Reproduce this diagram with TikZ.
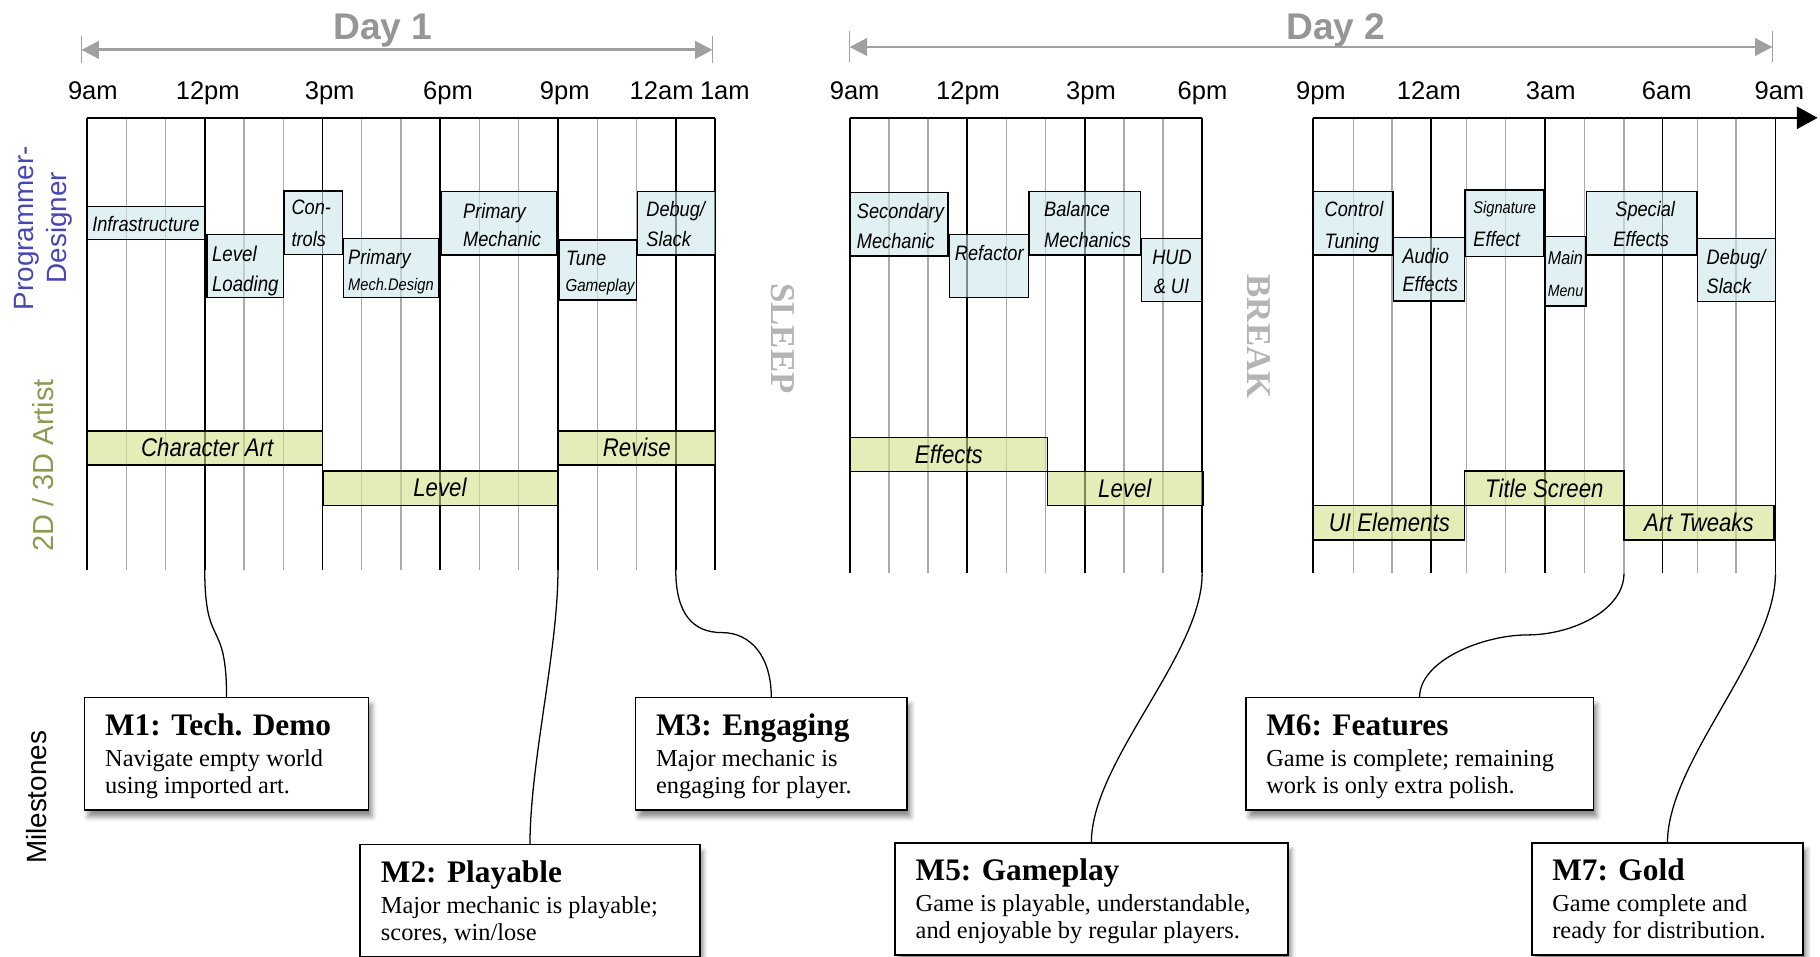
\documentclass[tikz,border=0pt]{standalone}
\usepackage{fontspec}
\setmainfont{Liberation Serif}
\newfontfamily\sansf{Liberation Sans}
\newfontfamily\itsans[FakeStretch=0.87]{Liberation Sans}
\usetikzlibrary{arrows.meta,shadows.blur}

\definecolor{boxblue}{RGB}{205,230,233}
\definecolor{boxgreen}{RGB}{210,225,135}
\definecolor{lblblue}{RGB}{70,70,180}
\definecolor{lblgreen}{RGB}{140,155,80}
\definecolor{daygray}{RGB}{150,150,150}
\definecolor{arrowgray}{RGB}{160,160,160}
\definecolor{sleepgray}{RGB}{180,180,180}
\definecolor{minorgray}{RGB}{170,170,170}

\newcommand\taskbox[6]{\node[#1, minimum width={#5-#3}, minimum height={#6-#4}] (#2) at (#3,#4) {};}
\newcommand\milestone[8]{%
  \node[mbox, minimum width={#4}] (#1) at (#2,#3) {};
  \node[mtitle] (#1-t) at ({#2+17.6},{#3+33}) {#5};
  \node[mbody] (#1-a) at ({#2+17.6},{#3+59.7}) {#6};
  \node[mbody] (#1-b) at ({#2+17.6},{#3+82.7}) {#7};
  \draw[conn] (#8) .. controls +(0,70) and +(0,-70) .. (#1.north);}

\begin{document}
\begin{tikzpicture}[x=1pt,y=-1pt,
  minor/.style={draw=minorgray, line width=1.2pt},
  major/.style={draw=black, line width=1.6pt},
  topline/.style={draw=black, line width=2.2pt},
  bbox/.style={draw=black, line width=1.3pt, fill=boxblue, fill opacity=0.6, inner sep=0pt, outer sep=0pt, anchor=north west},
  gbox/.style={draw=black, line width=1.3pt, fill=boxgreen, fill opacity=0.6, inner sep=0pt, outer sep=0pt, anchor=north west},
  btxt/.style={anchor=base west, inner sep=0pt, font=\itsans\itshape\fontsize{18}{18}\selectfont},
  gtxt/.style={anchor=base, inner sep=0pt, font=\itsans\itshape\fontsize{22}{22}\selectfont},
  tlabel/.style={anchor=base, inner sep=0pt, font=\sansf\fontsize{22}{22}\selectfont},
  daylabel/.style={anchor=base, inner sep=0pt, text=daygray, font=\sansf\bfseries\fontsize{32}{32}\selectfont},
  dayarrow/.style={draw=arrowgray, line width=2.5pt, {Triangle[length=15pt,width=15pt]}-{Triangle[length=15pt,width=15pt]}},
  daytick/.style={draw=arrowgray, line width=1.2pt},
  sidelbl/.style={rotate=90, anchor=base, inner sep=0pt, font=\sansf\fontsize{24}{24}\selectfont},
  breaklbl/.style={rotate=-90, anchor=center, inner sep=0pt, text=sleepgray, font=\bfseries\fontsize{30}{30}\selectfont},
  mbox/.style={draw=black, line width=1.4pt, fill=white, anchor=north west, minimum height=97pt, inner sep=0pt, outer sep=0pt,
     blur shadow={shadow xshift=3pt, shadow yshift=-6pt, shadow blur radius=4pt, shadow opacity=45}},
  mtitle/.style={anchor=base west, inner sep=0pt, font=\bfseries\fontsize{27}{27}\selectfont},
  mbody/.style={anchor=base west, inner sep=0pt, font=\fontsize{21}{21}\selectfont},
  conn/.style={draw=black, line width=1.1pt}
]
\useasboundingbox (0,0) rectangle (1568,824);

% ---------- Day headers ----------
\coordinate (d1l) at (70.2,43); \coordinate (d1r) at (613.9,43);
\draw[dayarrow] (d1l) -- (d1r);
\draw[daytick] (70.2,31) -- (70.2,54.5);
\draw[daytick] (613.9,31) -- (613.9,54.5);
\node[daylabel] (day1) at (330,34) {Day 1};

\coordinate (d2l) at (732,40.5); \coordinate (d2r) at (1527,40.5);
\draw[dayarrow] (d2l) -- (d2r);
\draw[daytick] (732,27) -- (732,53);
\draw[daytick] (1527,27) -- (1527,53);
\node[daylabel] (day2) at (1151,34) {Day 2};

% ---------- time labels ----------
\node[tlabel] (t1) at (80,86) {9am};
\node[tlabel] (t2) at (179,86) {12pm};
\node[tlabel] (t3) at (284,86) {3pm};
\node[tlabel] (t4) at (386,86) {6pm};
\node[tlabel] (t5) at (486.5,86) {9pm};
\node[tlabel] (t6) at (570,86) {12am};
\node[tlabel] (t7) at (624.5,86) {1am};
\node[tlabel] (u1) at (736.3,86) {9am};
\node[tlabel] (u2) at (834,86) {12pm};
\node[tlabel] (u3) at (940,86) {3pm};
\node[tlabel] (u4) at (1036,86) {6pm};
\node[tlabel] (u5) at (1138,86) {9pm};
\node[tlabel] (u6) at (1231,86) {12am};
\node[tlabel] (u7) at (1336,86) {3am};
\node[tlabel] (u8) at (1436,86) {6am};
\node[tlabel] (u9) at (1533,86) {9am};

% ---------- grid ----------
\foreach \k in {1,2,4,5,7,8,10,11,13,14}
  \draw[minor] ({75+\k*33.81},101.5) -- ({75+\k*33.81},491);
\foreach \k in {0,3,6,9,12,15,16}
  \draw[major] ({75+\k*33.81},101.5) -- ({75+\k*33.81},491);
\draw[topline] (75,101.5) -- (616,101.5);

\foreach \k in {1,2,4,5,7,8}
  \draw[minor] ({732.2+\k*33.72},101.5) -- ({732.2+\k*33.72},494);
\foreach \k in {0,3,6,9}
  \draw[major] ({732.2+\k*33.72},101.5) -- ({732.2+\k*33.72},494);
\draw[topline] (732.2,101.5) -- (1035.7,101.5);

\foreach \x in {1166.1,1199.3,1263.4,1297.1,1365.3,1399.1,1462.6,1495.7}
  \draw[minor] (\x,101.5) -- (\x,494);
\foreach \x in {1131.2,1233.2,1331,1432.3,1529.6}
  \draw[major] (\x,101.5) -- (\x,494);
\coordinate (axstart) at (1131.2,101.5);
\coordinate (axend) at (1566,101.5);
\draw[topline, -{Triangle[length=18pt,width=19pt]}] (axstart) -- (axend);

% ---------- side labels ----------
\node[sidelbl, text=lblblue] (pd1) at (29,196.5) {Programmer-};
\node[sidelbl, text=lblblue] (pd2) at (57,196) {Designer};
\node[sidelbl, text=lblgreen, font=\sansf\fontsize{25}{25}\selectfont] (art) at (46,401) {2D / 3D Artist};
\node[sidelbl, text=black] (msl) at (40,687) {Milestones};

\node[breaklbl] (sleep) at (674.5,291.5) {SLEEP};
\node[breaklbl] (brk) at (1085,290) {BREAK};

% ---------- programmer boxes ----------
\taskbox{bbox}{infra}{75}{178}{176.7}{206.2}
\taskbox{bbox}{lvlload}{178.3}{201.9}{244.3}{256.5}
\taskbox{bbox}{controls}{244.7}{164.6}{295.2}{219.1}
\taskbox{bbox}{pmdesign}{296.1}{205.3}{378.3}{256.2}
\taskbox{bbox}{pmech}{380}{165.1}{479.4}{219.7}
\taskbox{bbox}{tune}{481.5}{206.8}{548.3}{258.5}
\taskbox{bbox}{debugA}{549.2}{165.1}{616.4}{219.7}
\taskbox{bbox}{secmech}{732.2}{166}{816.7}{220.6}
\taskbox{bbox}{refactor}{817.9}{201.9}{886}{256.5}
\taskbox{bbox}{balance}{886.6}{164.8}{982.7}{219.7}
\taskbox{bbox}{hud}{983.3}{205.3}{1035.7}{259.9}
\taskbox{bbox}{ctrltune}{1131.2}{165}{1199.9}{219.7}
\taskbox{bbox}{audio}{1200.5}{204.8}{1261.6}{259.3}
\taskbox{bbox}{sigfx}{1262.2}{163.7}{1330.4}{221.1}
\taskbox{bbox}{mainmenu}{1331.6}{203.9}{1366.4}{263.6}
\taskbox{bbox}{specfx}{1367}{165}{1462}{219.7}
\taskbox{bbox}{debugB}{1462.6}{205.3}{1529.6}{259.9}

\node[btxt] (infra-t) at (79.3,199.6) {Infrastructure};
\node[btxt, font=\itsans\itshape\fontsize{18.5}{18.5}\selectfont] (lvlload-a) at (182.5,225.4) {Level};
\node[btxt, font=\itsans\itshape\fontsize{18.5}{18.5}\selectfont] (lvlload-b) at (182.5,251.3) {Loading};
\node[btxt] (controls-a) at (251,185.2) {Con-};
\node[btxt] (controls-b) at (251,212.5) {trols};
\node[btxt] (pmdesign-a) at (299.8,228.3) {Primary};
\node[btxt, font=\itsans\itshape\fontsize{14.5}{14.5}\selectfont] (pmdesign-b) at (299.8,249.9) {Mech.Design};
\node[btxt] (pmech-a) at (398.8,188.1) {Primary};
\node[btxt] (pmech-b) at (398.8,212.5) {Mechanic};
\node[btxt] (tune-a) at (487.5,228.4) {Tune};
\node[btxt, font=\itsans\itshape\fontsize{15}{15}\selectfont] (tune-b) at (487,251.3) {Gameplay};
\node[btxt] (debugA-a) at (556.7,186.7) {Debug/};
\node[btxt] (debugA-b) at (556.7,212.5) {Slack};
\node[btxt] (secmech-a) at (738.1,188.1) {Secondary};
\node[btxt] (secmech-b) at (738.1,214) {Mechanic};
\node[btxt] (refactor-t) at (822.5,224) {Refactor};
\node[btxt] (balance-a) at (899.4,186.7) {Balance};
\node[btxt] (balance-b) at (899.4,213.1) {Mechanics};
\node[btxt] (hud-a) at (992.6,228.3) {HUD};
\node[btxt] (hud-b) at (993.8,252.7) {\& UI};
\node[btxt] (ctrltune-a) at (1141.1,186.7) {Control};
\node[btxt] (ctrltune-b) at (1141.1,214) {Tuning};
\node[btxt] (audio-a) at (1208.1,226.9) {Audio};
\node[btxt] (audio-b) at (1208.1,251.3) {Effects};
\node[btxt, font=\itsans\itshape\fontsize{14.5}{14.5}\selectfont] (sigfx-a) at (1269.2,183.8) {Signature};
\node[btxt] (sigfx-b) at (1269.2,212.5) {Effect};
\node[btxt, font=\itsans\itshape\fontsize{16}{16}\selectfont] (mainmenu-a) at (1333.3,228.3) {Main};
\node[btxt, font=\itsans\itshape\fontsize{14}{14}\selectfont] (mainmenu-b) at (1333.3,255.6) {Menu};
\node[btxt] (specfx-a) at (1391.5,186.7) {Special};
\node[btxt] (specfx-b) at (1389.8,212.5) {Effects};
\node[btxt] (debugB-a) at (1470.2,228.3) {Debug/};
\node[btxt] (debugB-b) at (1470.2,252.7) {Slack};

% ---------- artist boxes ----------
\taskbox{gbox}{charart}{75.1}{371.3}{277.7}{400.6}
\taskbox{gbox}{levelA}{278.1}{405.8}{480.2}{435.7}
\taskbox{gbox}{revise}{481.1}{371.3}{616.4}{400.6}
\taskbox{gbox}{effects}{732.2}{376.8}{902.3}{406.1}
\taskbox{gbox}{levelB}{902.3}{406.1}{1036.3}{435.7}
\taskbox{gbox}{uielem}{1131.2}{435.7}{1261.6}{465.2}
\taskbox{gbox}{titlescr}{1261.6}{405.8}{1399.2}{435.7}
\taskbox{gbox}{arttweaks}{1399.2}{435.7}{1528.5}{465.2}

\node[gtxt] (charart-t) at (178.5,393.5) {Character Art};
\node[gtxt] (levelA-t) at (379,428) {Level};
\node[gtxt] (revise-t) at (548.7,393.5) {Revise};
\node[gtxt] (effects-t) at (817.5,399) {Effects};
\node[gtxt] (levelB-t) at (969,428.3) {Level};
\node[gtxt] (uielem-t) at (1197,458.3) {UI Elements};
\node[gtxt] (titlescr-t) at (1330.5,428.3) {Title Screen};
\node[gtxt] (arttweaks-t) at (1463.7,458) {Art Tweaks};

% ---------- milestones ----------
\coordinate (s1) at (176.4,491);
\coordinate (s2) at (480.7,491);
\coordinate (s3) at (582.2,491);
\coordinate (s5) at (1035.7,494);
\coordinate (s6) at (1399.1,494);
\coordinate (s7) at (1529.6,494);
\coordinate (mid3) at (622,545);
\coordinate (mid6) at (1316,547);

\milestone{m1}{72.8}{600.8}{244.8}{M1: Tech. Demo}{Navigate empty world}{using imported art.}{s1}
\milestone{m2}{310.4}{727.4}{292.4}{M2: Playable}{Major mechanic is playable;}{scores, win/lose}{s2}
\node[mbox, minimum width={234}] (m3) at (547.5,600.8) {};
\node[mtitle] (m3-t) at (565.1,633.8) {M3: Engaging};
\node[mbody] (m3-a) at (565.1,660.5) {Major mechanic is};
\node[mbody] (m3-b) at (565.1,683.5) {engaging for player.};
\draw[conn] (s3) .. controls +(0,38) and +(-25,0) .. (mid3) .. controls +(25,0) and +(0,-35) .. (m3.north);
\milestone{m5}{771.1}{726}{338.3}{M5: Gameplay}{Game is playable, understandable,}{and enjoyable by regular players.}{s5}
\node[mbox, minimum width={299.6}] (m6) at (1073.2,600.8) {};
\node[mtitle] (m6-t) at (1090.8,633.8) {M6: Features};
\node[mbody] (m6-a) at (1090.8,660.5) {Game is complete; remaining};
\node[mbody] (m6-b) at (1090.8,683.5) {work is only extra polish.};
\draw[conn] (s6) .. controls +(0,32) and +(38,0) .. (mid6) .. controls +(-38,0) and +(0,-32) .. (m6.north);
\milestone{m7}{1319.6}{726}{234}{M7: Gold}{Game complete and}{ready for distribution.}{s7}
\end{tikzpicture}
\end{document}
